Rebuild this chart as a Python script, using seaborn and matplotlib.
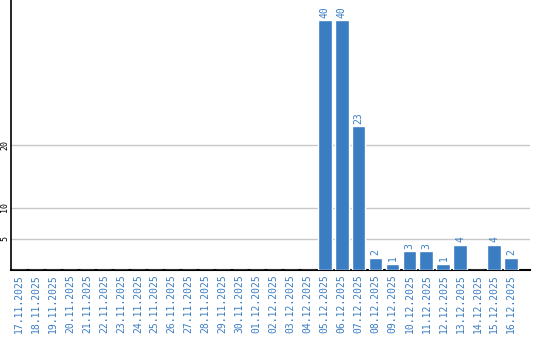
import matplotlib
matplotlib.use("Agg")
import matplotlib.pyplot as plt
import seaborn as sns
import pandas as pd

dates = ["17.11.2025", "18.11.2025", "19.11.2025", "20.11.2025", "21.11.2025",
         "22.11.2025", "23.11.2025", "24.11.2025", "25.11.2025", "26.11.2025",
         "27.11.2025", "28.11.2025", "29.11.2025", "30.11.2025", "01.12.2025",
         "02.12.2025", "03.12.2025", "04.12.2025", "05.12.2025", "06.12.2025",
         "07.12.2025", "08.12.2025", "09.12.2025", "10.12.2025", "11.12.2025",
         "12.12.2025", "13.12.2025", "14.12.2025", "15.12.2025", "16.12.2025"]
values = [0, 0, 0, 0, 0, 0, 0, 0, 0, 0, 0, 0, 0, 0, 0, 0, 0, 0,
          40, 40, 23, 2, 1, 3, 3, 1, 4, 0, 4, 2]
yticks = [5, 10, 20]

sns.set_style("white")
plt.rcParams['font.family'] = ['DejaVu Sans Mono', 'DejaVu Sans']

df = pd.DataFrame({"date": dates, "value": values})
blue = "#3a7dc2"

fig = plt.figure(figsize=(5.4, 3.4), dpi=100)
ax = fig.add_axes([10.5 / 540, 70 / 340, (530 - 10.5) / 540, 270 / 340])
sns.barplot(data=df, x="date", y="value", color=blue, width=0.82,
            saturation=1, ax=ax, zorder=3)

ax.set_ylim(0, 43.2)
ax.set_xlim(-0.5, 30.1)
ax.set_yticks(yticks)
ax.set_yticklabels([str(t) for t in yticks], rotation=90, va="center",
                   ha="center", fontsize=6, color="black")
for t in yticks:
    ax.axhline(t, color="#c8c8c8", lw=1, zorder=1)
ax.tick_params(axis="y", length=0, pad=4)
ax.tick_params(axis="x", length=0, pad=3)
ax.set_xticks(range(len(dates)))
ax.set_xticklabels(dates, rotation=90, fontsize=7, color=blue, va="top")
ax.set_xlabel("")
ax.set_ylabel("")

for s in ["top", "right"]:
    ax.spines[s].set_visible(False)
ax.spines["left"].set_color("black")
ax.spines["left"].set_linewidth(1.2)
ax.spines["bottom"].set_color("black")
ax.spines["bottom"].set_linewidth(1.5)

for i, v in enumerate(values):
    if v > 0:
        ax.text(i, v + 0.4, str(v), rotation=90, ha="center", va="bottom",
                fontsize=7, color=blue)

fig.savefig("out.png", dpi=100)
